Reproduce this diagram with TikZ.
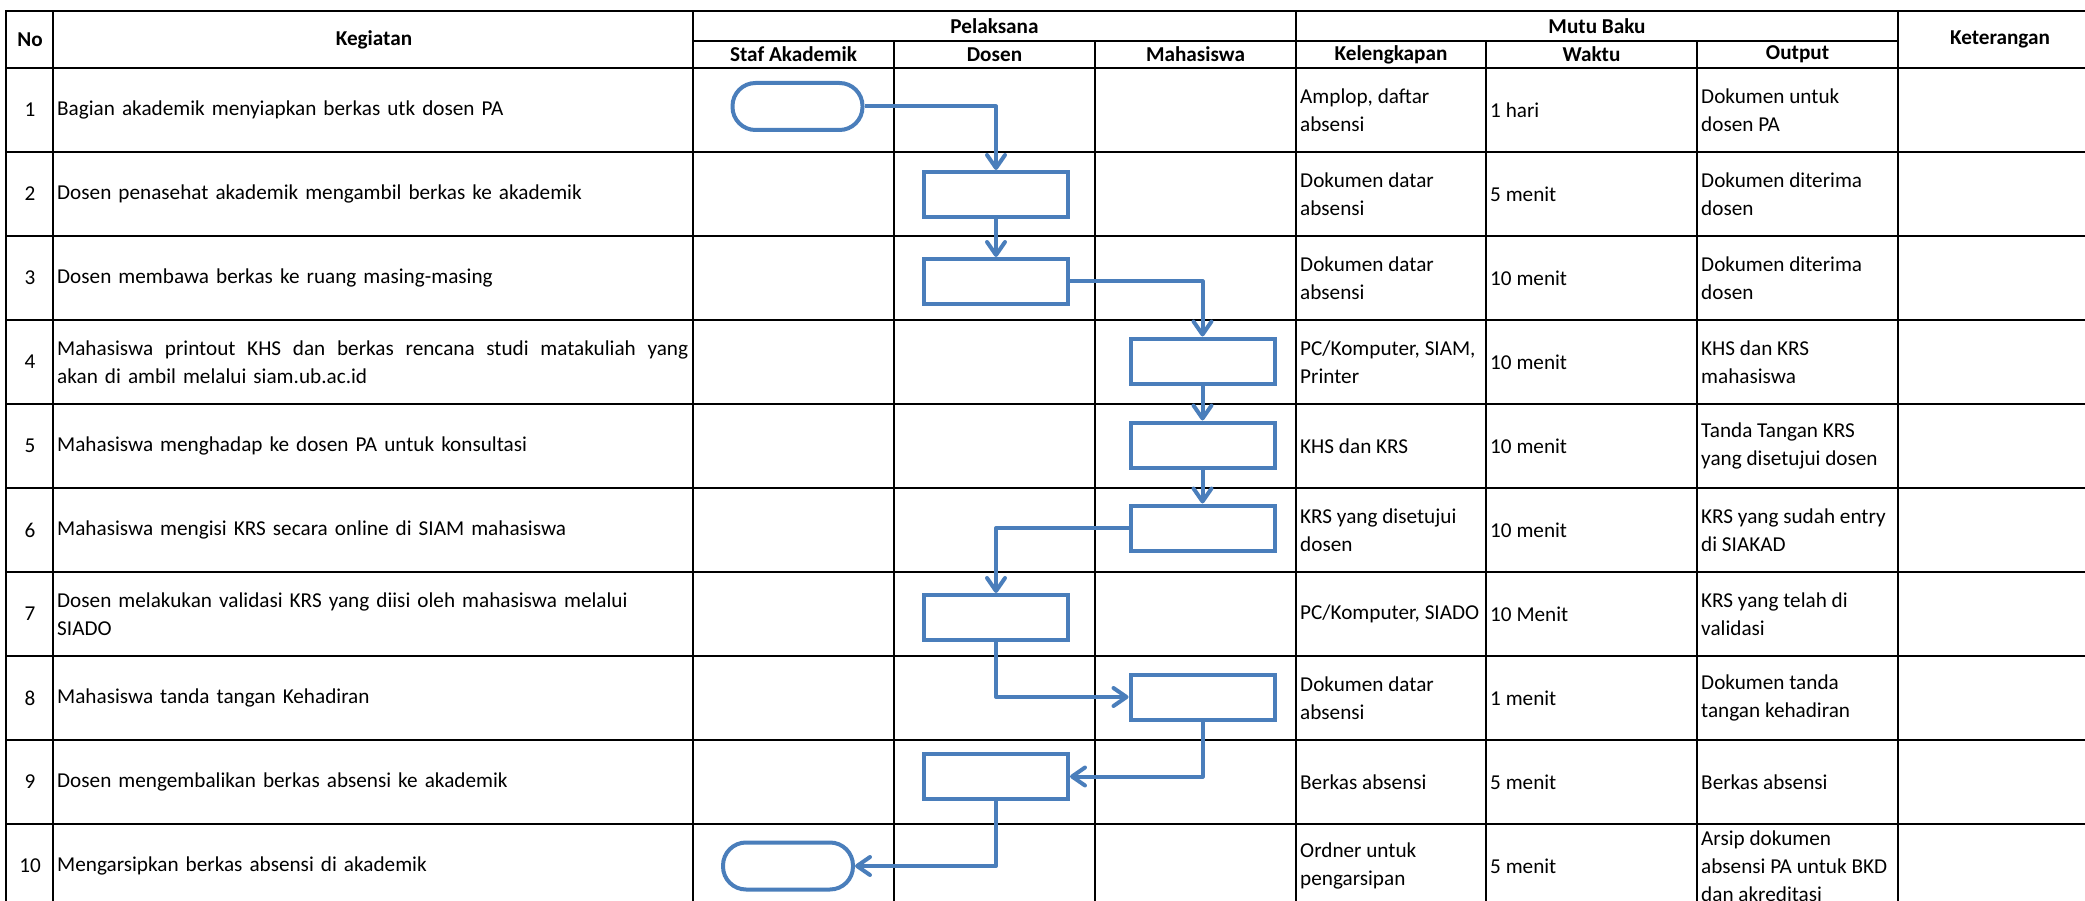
\documentclass[tikz,border=0pt]{standalone}
\usepackage{fontspec}
\setmainfont{Carlito}
\usetikzlibrary{arrows.meta}

\definecolor{flowblue}{RGB}{74,126,187}

\begin{document}
\begin{tikzpicture}[
    x=1pt, y=-1pt,
    grid/.style={line width=2pt, line cap=rect},
    hd/.style={font=\fontsize{21.2}{28}\selectfont\bfseries, inner sep=0pt},
    num/.style={font=\fontsize{21.2}{28}\selectfont, inner sep=0pt},
    txt/.style={font=\fontsize{21.2}{28}\selectfont, align=left, anchor=west, inner xsep=4pt, inner ysep=0pt},
    proc/.style={draw=flowblue, line width=4pt, minimum width=144pt, minimum height=45pt, inner sep=0pt},
    term/.style={draw=flowblue, line width=4pt, rounded corners=23pt, minimum width=130pt, minimum height=47pt, inner sep=0pt},
    flow/.style={draw=flowblue, line width=4pt, line join=round, -{Straight Barb[length=13pt, width=18pt, round]}}
  ]
    \useasboundingbox (0,0) rectangle (2085,901);
    \fill[white] (0,0) rectangle (2085,901);

    % table grid
    \foreach \y in {11,68,152,236,320,404,488,572,656,740,824}
      \draw[grid] (6,\y) -- (2085,\y);
    \draw[grid] (693,41) -- (1898,41);
    \foreach \x in {6,53,693,1296,1898}
      \draw[grid] (\x,11) -- (\x,901);
    \foreach \x in {894,1095,1486,1697}
      \draw[grid] (\x,41) -- (\x,901);

    % header
    \node[hd] (hno) at (30,39.5) {No};
    \node[hd] (hkeg) at (374,39.5) {Kegiatan};
    \node[hd] (hpel) at (994.5,26) {Pelaksana};
    \node[hd] (hstaf) at (793.5,54.5) {Staf Akademik};
    \node[hd] (hdos) at (994.5,54.5) {Dosen};
    \node[hd] (hmhs) at (1195.5,54.5) {Mahasiswa};
    \node[hd] (hmutu) at (1597,26) {Mutu Baku};
    \node[hd] (hkel) at (1391,54.5) {Kelengkapan};
    \node[hd] (hwak) at (1591.5,54.5) {Waktu};
    \node[hd] (hout) at (1797.5,54.5) {Output};
    \node[hd] (hket) at (2000,39.5) {Keterangan};

    % rows
    \foreach \i/\keg/\kel/\wak/\out in {
      1/{Bagian akademik menyiapkan berkas utk dosen PA}/{Amplop, daftar\\absensi}/{1 hari}/{Dokumen untuk\\dosen PA},
      2/{Dosen penasehat akademik mengambil berkas ke akademik}/{Dokumen datar\\absensi}/{5 menit}/{Dokumen diterima\\dosen},
      3/{Dosen membawa berkas ke ruang masing-masing}/{Dokumen datar\\absensi}/{10 menit}/{Dokumen diterima\\dosen},
      4/{\makebox[631pt][l]{Mahasiswa\hfill printout\hfill KHS\hfill dan\hfill berkas\hfill rencana\hfill studi\hfill matakuliah\hfill yang}\\akan di ambil melalui siam.ub.ac.id}/{PC/Komputer, SIAM,\\Printer}/{10 menit}/{KHS dan KRS\\mahasiswa},
      5/{Mahasiswa menghadap ke dosen PA untuk konsultasi}/{KHS dan KRS}/{10 menit}/{Tanda Tangan KRS\\yang disetujui dosen},
      6/{Mahasiswa mengisi KRS secara online di SIAM mahasiswa}/{KRS yang disetujui\\dosen}/{10 menit}/{KRS yang sudah entry\\di SIAKAD},
      7/{Dosen melakukan validasi KRS yang diisi oleh mahasiswa melalui\\SIADO}/{PC/Komputer, SIADO}/{10 Menit}/{KRS yang telah di\\validasi},
      8/{Mahasiswa tanda tangan Kehadiran}/{Dokumen datar\\absensi}/{1 menit}/{Dokumen tanda\\tangan kehadiran},
      9/{Dosen mengembalikan berkas absensi ke akademik}/{Berkas absensi}/{5 menit}/{Berkas absensi},
      10/{Mengarsipkan berkas absensi di akademik}/{Ordner untuk\\pengarsipan}/{5 menit}/{Arsip dokumen\\absensi PA untuk BKD\\dan akreditasi}}{
      \pgfmathsetmacro{\yc}{26+84*\i}
      \node[num] (no\i) at (30,\yc) {\i};
      \node[txt, text width=631pt] (keg\i) at (53,\yc) {\keg};
      \node[txt] (kel\i) at (1296,\yc) {\kel};
      \node[txt] (wak\i) at (1486,\yc) {\wak};
      \node[txt] (out\i) at (1697,\yc) {\out};
    }

    % flow
    \node[term] (start) at (797.5,106.5) {};
    \node[proc] (ambil) at (996,194.5) {};
    \node[proc] (bawa) at (996,281.5) {};
    \node[proc] (print) at (1202.5,361) {};
    \node[proc] (konsul) at (1202.5,445) {};
    \node[proc] (isi) at (1202.5,528) {};
    \node[proc] (valid) at (996,617.5) {};
    \node[proc] (ttd) at (1202.5,697) {};
    \node[proc] (kembali) at (996,776.5) {};
    \node[term] (arsip) at (788,866) {};

    \draw[flow] (start.east) -| (ambil.north);
    \draw[flow] (ambil) -- (bawa);
    \draw[flow] (bawa.east) -| (print.north);
    \draw[flow] (print) -- (konsul);
    \draw[flow] (konsul) -- (isi);
    \draw[flow] (isi.west) -| (valid.north);
    \draw[flow] (valid.south) |- (ttd.west);
    \draw[flow] (ttd.south) |- (kembali.east);
    \draw[flow] (kembali.south) |- (arsip.east);
\end{tikzpicture}
\end{document}
